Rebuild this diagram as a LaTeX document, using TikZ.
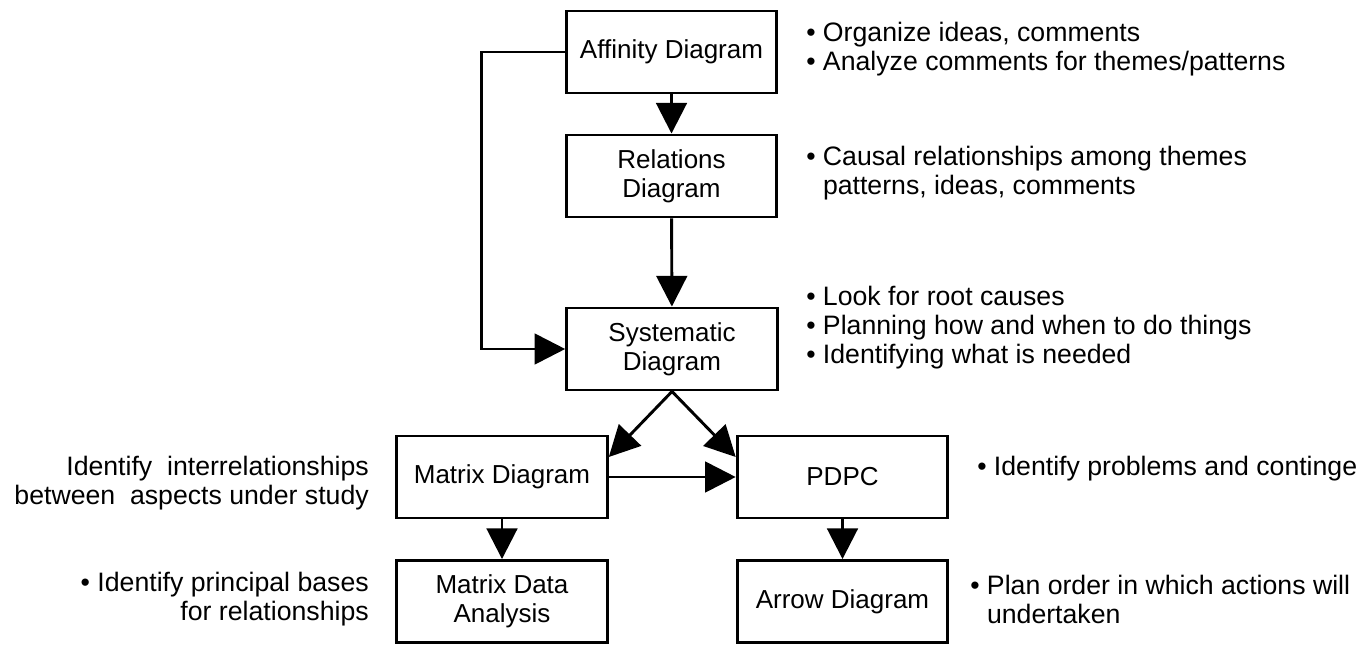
\documentclass[tikz,border=0pt]{standalone}
\usepackage{fontspec}
\setmainfont{Liberation Sans}
\usetikzlibrary{arrows.meta}

\begin{document}
\begin{tikzpicture}[x=0.75pt,y=-0.75pt,
  txt/.style={font=\fontsize{20}{21.75}\selectfont},
  box/.style={font=\fontsize{19.5}{21.75}\selectfont,draw,line width=2.2pt,
    minimum width=158pt,minimum height=61.5pt,align=center,inner sep=0pt},
  conn/.style={line width=2.2pt,-{Triangle[length=23pt,width=23pt]}},
  note/.style={txt,inner sep=0pt,align=left,anchor=west},
  rnote/.style={txt,inner sep=0pt,align=right,anchor=east}]
\useasboundingbox (0,0) rectangle (1372,647);
\clip (0,0) rectangle (1372,647);

% boxes
\node[box] (aff) at (671.5,52) {Affinity Diagram};
\node[box] (rel) at (671.5,176) {Relations\\Diagram};
\node[box] (sys) at (672,349) {Systematic\\Diagram};
\node[box] (mat) at (502,477) {Matrix Diagram};
\node[box] (pdpc) at (842.5,477) {PDPC};
\node[box] (mda) at (502,601.5) {Matrix Data\\Analysis};
\node[box] (arr) at (842.5,601.5) {Arrow Diagram};

% connectors
\draw[conn] (aff) -- (rel);
\draw[conn] (rel) -- (sys);
\draw[conn] (aff.west) -- ++(-83,0) |- (sys.west);
\draw[conn] (sys.south) -- ([yshift=15pt]mat.east);
\draw[conn] (sys.south) -- ([yshift=15pt]pdpc.west);
\draw[conn] (mat) -- (pdpc);
\draw[conn] (mat) -- (mda);
\draw[conn] (pdpc) -- (arr);

% notes
\node[note] (n1) at (806,49.5) {• Organize ideas, comments\\• Analyze comments for themes/patterns};
\node[note] (n2) at (806,173.5) {• Causal relationships among themes\\\phantom{• }patterns, ideas, comments};
\node[note] (n3) at (806,328) {• Look for root causes\\• Planning how and when to do things\\• Identifying what is needed};
\node[note] (n4) at (977,469) {• Identify problems and continge};
\node[note] (n5) at (970,599) {• Plan order in which actions will\\\phantom{• }undertaken};
\node[rnote] (l1) at (369,483.5) {Identify\ \ interrelationships\\between\ \ aspects under study};
\node[rnote] (l2) at (369,599) {• Identify principal bases\\for relationships};
\end{tikzpicture}
\end{document}
